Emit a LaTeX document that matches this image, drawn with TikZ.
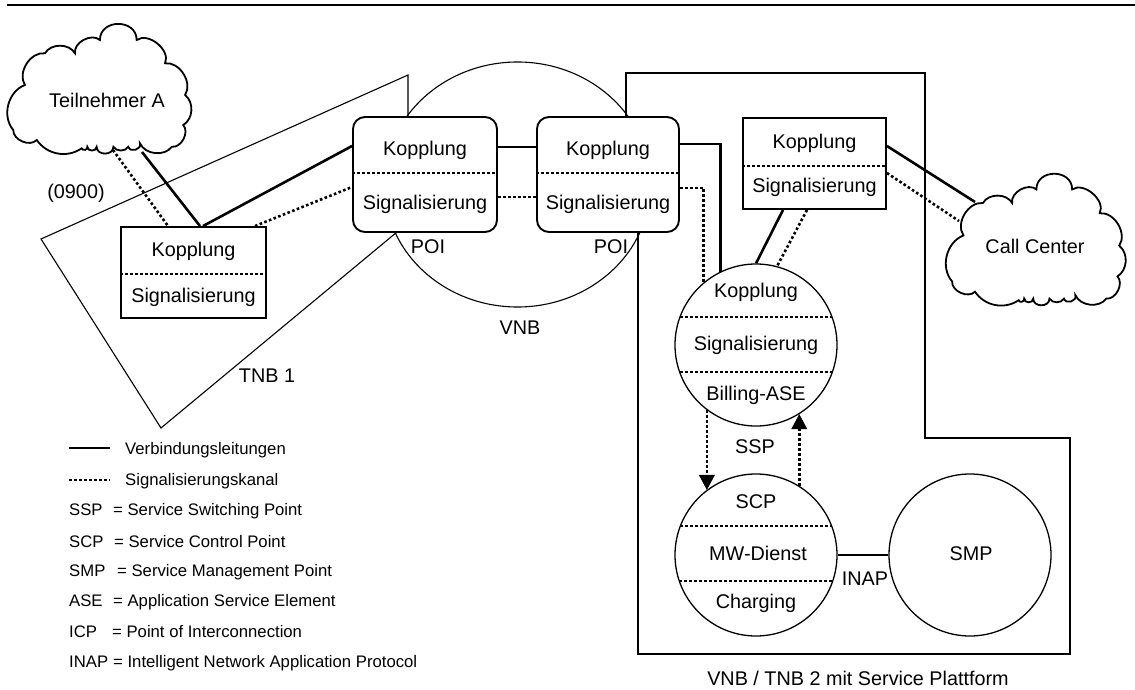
\documentclass[tikz,border=0pt]{standalone}
\usepackage{fontspec}
\setmainfont{Liberation Sans}
\usetikzlibrary{calc,arrows.meta}
\newcommand\mainsz{\fontsize{19.8pt}{24pt}\selectfont}
\newcommand\legsz{\fontsize{16.7pt}{20pt}\selectfont}
\tikzset{
  cloudline/.style={line width=1.8pt},
  cloudpic/.pic={
    \draw[cloudline]
     (0.093,0.477) to[bend left=65] (0.203,0.233) to[bend left=60] (0.368,0.233)
     to[bend left=70] (0.505,0.131) to[bend left=90, looseness=1.5] (0.707,0.131)
     to[bend left=75] (0.863,0.31) to[bend left=65] (0.973,0.554) to[bend left=55] (0.963,0.785)
     to[bend left=70] (0.9,0.952) to[bend left=60] (0.725,0.925) to[bend left=90,looseness=1.4] (0.661,0.952)
     to[bend left=60] (0.579,0.952) to[bend left=90,looseness=1.4] (0.487,0.952) to[bend left=90,looseness=1.4] (0.436,0.952)
     to[bend left=90,looseness=1.4] (0.405,0.964) to[bend left=45] (0.158,0.9) to[bend left=70] (0.029,0.823)
     to[bend left=55] (0.093,0.477) -- cycle;
  }
}
\begin{document}
\begin{tikzpicture}[x=1pt,y=-1pt,
  thinline/.style={line width=1.1pt},
  boxline/.style={draw, line width=1.9pt, fill=white, inner sep=0pt},
  conn/.style={line width=2.6pt},
  sig/.style={line width=2.6pt, dash pattern=on 2.6pt off 2.4pt},
  lbl/.style={font=\mainsz, inner sep=0pt},
  leg/.style={font=\legsz, inner sep=0pt, anchor=west},
  circ/.style={draw, circle, line width=1.3pt, minimum size=162pt, inner sep=0pt, fill=white},
  tip/.style={-{Triangle[width=16pt,length=15pt,line width=0.5pt]}}
]
\useasboundingbox (0,0) rectangle (1135,690);
\draw[line width=2pt] (7,5) -- (1135,5);

% regions
\draw[thinline] (408,117) -- (408,75) -- (41,239) -- (161,428) -- (397,232);
\draw[thinline] (626,117) -- (626,73) -- (925,73) -- (925,438) -- (1070,438) -- (1070,654) -- (638,654) -- (638,232);
\draw[thinline] (517.5,184.5) ellipse [x radius=133pt, y radius=122.5pt];

% clouds
\begin{scope}[shift={(8,23)},x=182pt,y=-130pt] \pic {cloudpic}; \end{scope}
\begin{scope}[shift={(947,172)},x=177pt,y=-133pt] \pic {cloudpic}; \end{scope}
\node[lbl] (ta) at (107,100) {Teilnehmer A};
\node[lbl] (cc) at (1035,246) {Call Center};
\coordinate (taK) at (142,152);
\coordinate (taS) at (113,150);
\coordinate (ccK) at (975,202);
\coordinate (ccS) at (959,221);

% boxes
\node[boxline, minimum width=145pt, minimum height=91pt] (tnb) at (193.5,272.5) {};
\node[boxline, rounded corners=12pt, minimum width=144pt, minimum height=115pt] (poiA) at (425,174.5) {};
\node[boxline, rounded corners=12pt, minimum width=142pt, minimum height=115pt] (poiB) at (608,174.5) {};
\node[boxline, minimum width=143pt, minimum height=91pt] (rbox) at (814.5,163.5) {};

\draw[sig] (tnb.west |- 0,274) -- (tnb.east |- 0,274);
\draw[sig] (poiA.west |- 0,173) -- (poiA.east |- 0,173);
\draw[sig] (poiB.west |- 0,173) -- (poiB.east |- 0,173);
\draw[sig] (rbox.west |- 0,166) -- (rbox.east |- 0,166);

\node[lbl] (tnbK) at (193.5,251) {Kopplung};
\node[lbl] (tnbS) at (193.5,297) {Signalisierung};
\node[lbl] (poiAK) at (425,150) {Kopplung};
\node[lbl] (poiAS) at (425,204) {Signalisierung};
\node[lbl] (poiBK) at (608,150) {Kopplung};
\node[lbl] (poiBS) at (608,204) {Signalisierung};
\node[lbl] (rboxK) at (814.5,143) {Kopplung};
\node[lbl] (rboxS) at (814.5,187) {Signalisierung};

% circles
\node[circ] (ssp) at (756,345) {};
\node[circ] (scp) at (756,555) {};
\node[circ] (smp) at (970,555) {};
\draw[sig] ($(ssp)+(-76,-28)$) -- ($(ssp)+(76,-28)$);
\draw[sig] ($(ssp)+(-76,27)$) -- ($(ssp)+(76,27)$);
\draw[sig] ($(scp)+(-75.6,-29)$) -- ($(scp)+(75.6,-29)$);
\draw[sig] ($(scp)+(-76.7,26)$) -- ($(scp)+(76.7,26)$);
\node[lbl] (sspK) at (756,292) {Kopplung};
\node[lbl] (sspS) at (756,345) {Signalisierung};
\node[lbl] (sspB) at (756,395) {Billing-ASE};
\node[lbl] (scpT) at (756,502) {SCP};
\node[lbl] (scpM) at (758,553) {MW-Dienst};
\node[lbl] (scpC) at (756,603) {Charging};
\node[lbl] (smpT) at (971,554) {SMP};

% connectors
\draw[conn] (taK) -- ($(tnb.north)+(6.5,0)$);
\draw[sig] (taS) -- ($(tnb.north)+(-25.5,0)$);
\draw[conn] ($(tnb.north)+(9.5,0)$) -- ($(poiA.west)+(0,-28.5)$);
\draw[sig] ($(tnb.north)+(61.5,0)$) -- ($(poiA.west)+(0,12.5)$);
\draw[conn] ($(poiA.east)+(0,-27.5)$) -- ($(poiB.west)+(0,-27.5)$);
\draw[sig] ($(poiA.east)+(0,22.5)$) -- ($(poiB.west)+(0,22.5)$);
\draw[conn] ($(poiB.east)+(0,-30.5)$) -| (ssp.116.4);
\draw[sig] ($(poiB.east)+(0,13.5)$) -| (ssp.130);
\draw[conn] ($(rbox.south)+(-31.5,0)$) -- (ssp.north);
\draw[sig] ($(rbox.south)+(-7.5,0)$) -- (ssp.75);
\draw[conn] ($(rbox.east)+(0,-17.5)$) -- (ccK);
\draw[sig] ($(rbox.east)+(0,9.5)$) -- (ccS);
\draw[conn] (scp.east) -- (smp.west);
\draw[sig, tip] (ssp.233) -- (scp.127);
\draw[sig, tip] (scp.58) -- (ssp.-58);

% labels
\node[lbl] (l0900) at (76,193) {(0900)};
\node[lbl] (lpoiA) at (428,247) {POI};
\node[lbl] (lpoiB) at (611,247) {POI};
\node[lbl] (lvnb) at (520,328) {VNB};
\node[lbl] (ltnb) at (267,376) {TNB 1};
\node[lbl] (lssp) at (755,447) {SSP};
\node[lbl] (linap) at (865,579) {INAP};
\node[lbl] (lplat) at (858,678) {VNB / TNB 2 mit Service Plattform};

% legend
\draw[conn] (69,448) -- (110,448);
\draw[sig] (69,480) -- (110,480);
\node[leg] (lg1) at (125,450) {Verbindungsleitungen};
\node[leg] (lg2) at (125,481) {Signalisierungskanal};
\node[leg] (lg3) at (69,511) {\makebox[44pt][l]{SSP}= Service Switching Point};
\node[leg] (lg4) at (69,542) {\makebox[45pt][l]{SCP}= Service Control Point};
\node[leg] (lg5) at (69,572) {\makebox[48pt][l]{SMP}= Service Management Point};
\node[leg] (lg6) at (69,602) {\makebox[44pt][l]{ASE}= Application Service Element};
\node[leg] (lg7) at (69,632) {\makebox[43pt][l]{ICP}= Point of Interconnection};
\node[leg] (lg8) at (69,663) {\makebox[44pt][l]{INAP}= Intelligent Network Application Protocol};
\end{tikzpicture}
\end{document}
